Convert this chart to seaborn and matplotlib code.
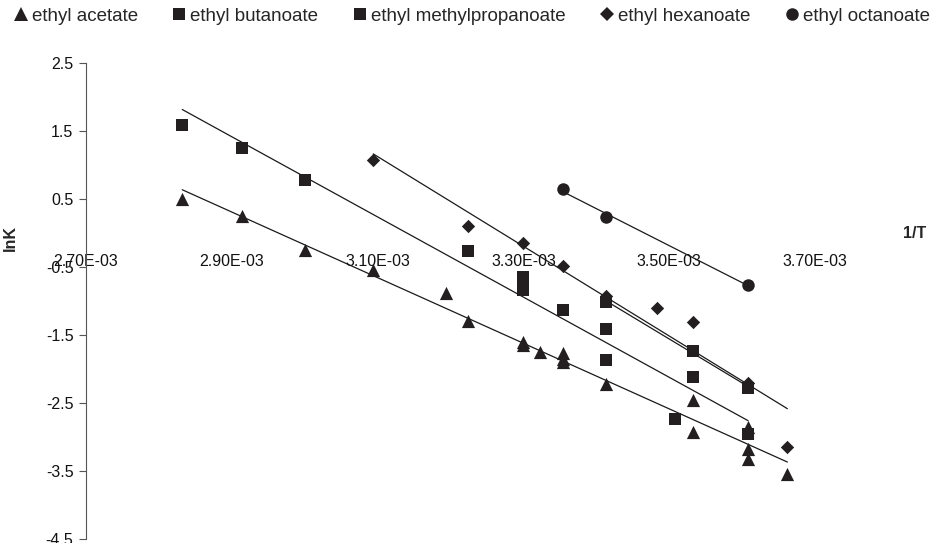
"""lnK vs 1/T for ethyl esters, with linear trend lines per ester"""
import matplotlib
matplotlib.use("Agg")
import matplotlib.pyplot as plt
import matplotlib.transforms as mtransforms
from matplotlib.lines import Line2D
from matplotlib.ticker import FuncFormatter, MultipleLocator
import numpy as np
import pandas as pd
import seaborn as sns

# values (x in 1/K, y = lnK)
acetate_x = [2.832e-3, 2.914e-3, 3.000e-3, 3.094e-3, 3.194e-3, 3.224e-3, 3.299e-3,
             3.299e-3, 3.323e-3, 3.354e-3, 3.354e-3, 3.354e-3, 3.413e-3, 3.533e-3,
             3.533e-3, 3.608e-3, 3.608e-3, 3.608e-3, 3.662e-3]
acetate_y = [0.50, 0.25, -0.25, -0.54, -0.88, -1.29, -1.60, -1.65, -1.75, -1.77,
             -1.85, -1.90, -2.22, -2.45, -2.92, -2.85, -3.18, -3.32, -3.55]

butanoate_x = [2.832e-3, 2.914e-3, 3.000e-3, 3.224e-3, 3.299e-3, 3.299e-3, 3.299e-3,
               3.354e-3, 3.413e-3, 3.413e-3, 3.508e-3, 3.533e-3, 3.608e-3]
butanoate_y = [1.59, 1.26, 0.79, -0.26, -0.64, -0.73, -0.83, -1.13, -1.41, -1.87,
               -2.73, -2.12, -2.95]

methylprop_x = [3.413e-3, 3.533e-3, 3.608e-3]
methylprop_y = [-1.01, -1.73, -2.28]

hexanoate_x = [3.094e-3, 3.224e-3, 3.299e-3, 3.354e-3, 3.413e-3, 3.483e-3, 3.533e-3,
               3.608e-3, 3.662e-3]
hexanoate_y = [1.07, 0.10, -0.15, -0.48, -0.93, -1.10, -1.31, -2.20, -3.14]

octanoate_x = [3.354e-3, 3.413e-3, 3.608e-3]
octanoate_y = [0.65, 0.24, -0.76]

SERIES = ["ethyl acetate", "ethyl butanoate", "ethyl methylpropanoate",
          "ethyl hexanoate", "ethyl octanoate"]
MARKERS = {"ethyl acetate": "^", "ethyl butanoate": "s",
           "ethyl methylpropanoate": "s", "ethyl hexanoate": "D",
           "ethyl octanoate": "o"}
MSIZE = {"^": 9.5, "s": 8.5, "D": 6.8, "o": 9.0}
INK = "#231f20"

df = pd.concat([
    pd.DataFrame({"invT": acetate_x, "lnK": acetate_y, "ester": SERIES[0]}),
    pd.DataFrame({"invT": butanoate_x, "lnK": butanoate_y, "ester": SERIES[1]}),
    pd.DataFrame({"invT": methylprop_x, "lnK": methylprop_y, "ester": SERIES[2]}),
    pd.DataFrame({"invT": hexanoate_x, "lnK": hexanoate_y, "ester": SERIES[3]}),
    pd.DataFrame({"invT": octanoate_x, "lnK": octanoate_y, "ester": SERIES[4]}),
], ignore_index=True)

sns.set_style("white")
plt.rcParams["font.family"] = ["Liberation Sans", "DejaVu Sans"]
plt.rcParams["axes.unicode_minus"] = False

fig = plt.figure(figsize=(9.37, 5.43), dpi=100)
ax = fig.add_axes([86 / 937, 4 / 543, 802 / 937, 475.7 / 543])

for name in SERIES:
    sub = df[df["ester"] == name]
    m = MARKERS[name]
    sns.regplot(data=sub, x="invT", y="lnK", ax=ax, scatter=False, ci=None,
                truncate=True, line_kws={"color": "#1a1a1a", "lw": 0.9})
    sns.scatterplot(data=sub, x="invT", y="lnK", ax=ax, marker=m,
                    s=MSIZE[m] ** 2, color=INK, edgecolor=INK, linewidth=0,
                    legend=False, zorder=3)

ax.set_xlim(2.7e-3, 3.8e-3)
ax.set_ylim(-4.5, 2.5)
ax.xaxis.set_major_locator(MultipleLocator(1e-4))
ax.xaxis.set_major_formatter(FuncFormatter(
    lambda v, pos: f"{v:.2E}" if round(v * 1e4) % 2 == 1 else ""))
ax.set_yticks(np.arange(-4.5, 2.6, 1.0))
ax.yaxis.set_major_formatter(FuncFormatter(lambda v, pos: f"{v:.1f}"))

for side in ["top", "right"]:
    ax.spines[side].set_visible(False)
ax.spines["bottom"].set_position(("data", 0))
ax.spines["bottom"].set_linewidth(0)
ax.spines["left"].set_color("#555555")
ax.spines["left"].set_linewidth(0.8)

ax.tick_params(axis="x", direction="out", length=3, width=0.7, color="#777777",
               pad=12, labelsize=11.5, labelcolor="#111111")
ax.tick_params(axis="y", direction="out", length=5, width=0.8, color="#555555",
               pad=4, left=True, labelsize=11.5, labelcolor="#111111")

ax.set_xlabel("")
ax.set_ylabel("lnK", fontsize=11.5, fontweight="bold")
ax.yaxis.set_label_coords(-0.0854, 0.633)

trans = mtransforms.blended_transform_factory(ax.transAxes, ax.transData)
ax.text(1 + 15 / 802, 0, "1/T", transform=trans, ha="left", va="center",
        fontsize=11.5, fontweight="bold")

handles = [Line2D([], [], ls="", marker=MARKERS[n], color=INK,
                  markersize=MSIZE[MARKERS[n]], markeredgewidth=0)
           for n in SERIES]
fig.legend(handles, SERIES, ncol=5, loc="center left",
           bbox_to_anchor=(0.016, 0.97), frameon=False, fontsize=13.5,
           handlelength=0.6, handletextpad=0.3, columnspacing=1.9,
           borderaxespad=0, borderpad=0)

fig.savefig("out.png", dpi=100)
